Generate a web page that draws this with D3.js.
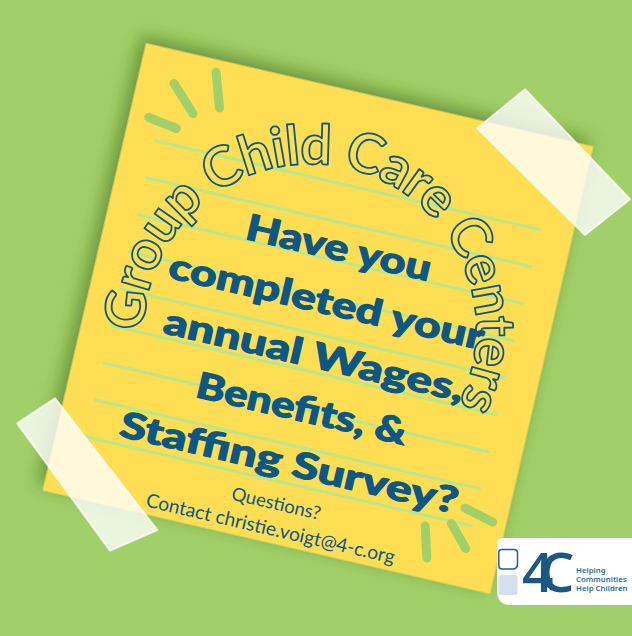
<!DOCTYPE html>
<html><head><meta charset="utf-8">
<script src="https://cdn.jsdelivr.net/npm/d3@7"></script>
<style>html,body{margin:0;padding:0;background:#a1cf69;overflow:hidden}svg{display:block}</style>
</head><body><svg id="c" width="632" height="636"></svg>
<script>
// ---- content ----
const arcTitle = "Group Child Care Centers";
const headlineLines = ["Have you", "completed your", "annual Wages,", "Benefits, &", "Staffing Survey?"];
const contactLines = ["Questions?", "Contact christie.voigt@4-c.org"];
const logoMark = "4C";
const logoTagline = ["Helping", "Communities", "Help Children"];
const ruleRows = [0, 1, 2, 3, 4, 5, 6, 7, 8];

// ---- layout / style ----
const W = 632, H = 636;
const C = {bg: "#a1cf69", note: "#ffde52", rule: "#bce689", blue: "#0b5785", tape: "#ffffff", logoBlue: "#1d5784"};
const note = {cx: 318, cy: 318.5, size: 459, angle: 13};
const headW = [189, 322, 307, 215, 346];
const headY = [-61, -6, 49, 104, 159.5];
const headX = 4.5;
const contactY = [196, 222], contactW = [91, 255], contactX = 1;
const arc = {cx: -5, cy: 13, r: 166, spanLen: 600};
const bursts = [
  [[216, 72], [219.5, 108]], [[174, 83.4], [193, 113.6]], [[148.7, 117.5], [176.3, 128.5]],
  [[465, 508], [492.5, 522]], [[451.5, 523.5], [465.6, 548.5]], [[425.2, 526], [426.8, 558]]
];
const tapes = [
  [[525, 89.3], [630, 199.3], [585, 235], [477.3, 128.3]],
  [[17.3, 423.3], [55, 398.3], [157.3, 530], [110, 550.7]]
];

const svg = d3.select("#c");
svg.append("rect").attr("width", W).attr("height", H).attr("fill", C.bg);

const defs = svg.append("defs");
const f = defs.append("filter").attr("id", "sh").attr("x", "-20%").attr("y", "-20%").attr("width", "140%").attr("height", "140%");
f.append("feDropShadow").attr("dx", -6).attr("dy", -6).attr("stdDeviation", 9)
  .attr("flood-color", "#3a6518").attr("flood-opacity", 0.6);

const g = svg.append("g").attr("transform", `translate(${note.cx},${note.cy}) rotate(${note.angle})`);
const hs = note.size / 2;
g.append("rect").attr("x", -hs).attr("y", -hs).attr("width", note.size).attr("height", note.size)
  .attr("fill", C.note).attr("filter", "url(#sh)");

// ruled lines
const rowY = d3.scaleLinear().domain([0, 8]).range([-136.5, 167.5]);
g.selectAll("line.rule").data(ruleRows).join("line").attr("class", "rule")
  .attr("x1", -200).attr("x2", 197).attr("y1", d => rowY(d)).attr("y2", d => rowY(d))
  .attr("stroke", C.rule).attr("stroke-width", 3);

// burst strokes (screen coords)
svg.selectAll("line.burst").data(bursts).join("line").attr("class", "burst")
  .attr("x1", d => d[0][0]).attr("y1", d => d[0][1]).attr("x2", d => d[1][0]).attr("y2", d => d[1][1])
  .attr("stroke", C.bg).attr("stroke-width", 9).attr("stroke-linecap", "round");

// arc title
const a0 = 150 * Math.PI / 180, a1 = 390 * Math.PI / 180;
const p = d3.path();
p.arc(arc.cx, arc.cy, arc.r, a0, a1, false);
g.append("path").attr("id", "arcp").attr("d", p.toString()).attr("fill", "none");
const at = g.append("text").attr("font-family", "Lato, 'Open Sans', sans-serif").attr("font-size", 55)
  .attr("font-weight", 700).attr("fill", C.note).attr("stroke", C.blue).attr("stroke-width", 1.8)
  .attr("stroke-linejoin", "round");
at.append("textPath").attr("href", "#arcp").attr("startOffset", "50%").attr("text-anchor", "middle").text(arcTitle);
const natural = at.node().getComputedTextLength();
at.attr("letter-spacing", (arc.spanLen - natural) / (arcTitle.length - 1));

// headline
g.selectAll("text.head").data(headlineLines).join("text").attr("class", "head")
  .attr("x", headX).attr("y", (d, i) => headY[i]).attr("text-anchor", "middle")
  .attr("font-family", "Lato, 'Open Sans', sans-serif").attr("font-weight", 900).attr("font-size", 36)
  .attr("fill", C.blue).attr("stroke", C.blue).attr("stroke-width", 1.1).attr("stroke-linejoin", "round")
  .attr("textLength", (d, i) => headW[i]).attr("lengthAdjust", "spacingAndGlyphs")
  .text(d => d);

// contact
g.selectAll("text.contact").data(contactLines).join("text").attr("class", "contact")
  .attr("x", contactX).attr("y", (d, i) => contactY[i]).attr("text-anchor", "middle")
  .attr("font-family", "Lato, 'Open Sans', sans-serif").attr("font-weight", 400).attr("font-size", 17)
  .attr("fill", C.blue).text(d => d)
  .each(function (d, i) {
    const len = this.getComputedTextLength();
    d3.select(this).attr("font-size", 17 * contactW[i] / len);
  });

// tapes
svg.selectAll("polygon.tape").data(tapes).join("polygon").attr("class", "tape")
  .attr("points", d => d.map(q => q.join(",")).join(" "))
  .attr("fill", C.tape).attr("fill-opacity", 0.78).attr("stroke", C.tape).attr("stroke-opacity", 0.78)
  .attr("stroke-width", 2).attr("stroke-linejoin", "round");

// logo
const lg = svg.append("g");
lg.append("path").attr("d", "M503,538 H640 V605 H511 Q497,605 497,591 V544 Q497,538 503,538 Z").attr("fill", "#ffffff");
lg.append("path").attr("d", "M502,549.5 H514 Q517.5,549.5 517.5,553 V564 Q517.5,569 512.5,569 H502 Q498.8,569 498.8,565.8 V552.7 Q498.8,549.5 502,549.5 Z")
  .attr("fill", "none").attr("stroke", "#2b5f8a").attr("stroke-width", 1.5);
lg.append("rect").attr("x", 498.5).attr("y", 575).attr("width", 19).attr("height", 20).attr("rx", 3).attr("fill", "#d3e1ef");
lg.append("text").attr("x", 522).attr("y", 592)
  .attr("font-family", "'Open Sans', sans-serif").attr("font-weight", 600)
  .attr("font-size", 55).attr("letter-spacing", -14).attr("fill", C.logoBlue).text(logoMark);
lg.selectAll("text.tag").data(logoTagline).join("text").attr("class", "tag")
  .attr("x", 576).attr("y", (d, i) => [572.5, 582, 591][i])
  .attr("font-family", "'Noto Sans', sans-serif").attr("font-weight", 600).attr("font-size", 7.8)
  .attr("fill", "#2f6fa0").text(d => d);
</script>
</body></html>
